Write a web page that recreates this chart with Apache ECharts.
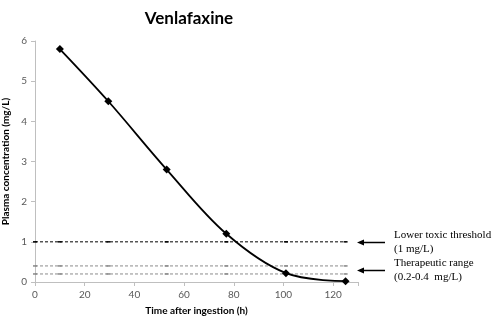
<!DOCTYPE html>
<html lang="en">
<head>
    <meta charset="UTF-8">
    <title>Venlafaxine</title>
    <style>
        html, body { margin: 0; padding: 0; background: #fff; }
        #main { width: 500px; height: 324px; }
    </style>
    <script src="https://cdn.jsdelivr.net/npm/echarts@6/dist/echarts.min.js"></script>
</head>
<body>
    <div id="main"></div>
    <script>
        // measured plasma levels
        let hours = [10, 29.5, 53, 77, 101, 125];
        let conc = [5.8, 4.5, 2.8, 1.2, 0.22, 0.02];
        // reference lines
        let lineX = [0, 10, 29.5, 53, 77, 101, 125];
        let toxic = 1;
        let therapLow = 0.2;
        let therapHigh = 0.4;
        let notes = [
            ['Lower toxic threshold', '(1 mg/L)'],
            ['Therapeutic range', '(0.2-0.4  mg/L)']
        ];

        function flat(v) {
            return lineX.map(function (x) { return [x, v]; });
        }

        let chartDom = document.getElementById('main');
        let myChart = echarts.init(chartDom);
        let font = 'Lato, "Open Sans", sans-serif';

        let option = {
            animation: false,
            title: {
                text: 'Venlafaxine',
                left: 184,
                textAlign: 'center',
                top: 5,
                textStyle: { fontFamily: font, fontWeight: 'bold', fontSize: 17, color: '#000' }
            },
            grid: { left: 35, right: 142, top: 41, bottom: 42, outerBoundsMode: 'none', containLabel: false },
            xAxis: {
                type: 'value',
                min: 0, max: 130, interval: 20,
                name: 'Time after ingestion (h)',
                nameLocation: 'middle',
                nameGap: 24,
                nameTextStyle: { fontFamily: font, fontWeight: 'bold', fontSize: 10, color: '#000' },
                axisLine: { lineStyle: { color: '#bfbfbf' } },
                axisTick: { show: true, length: 4, lineStyle: { color: '#bfbfbf' } },
                axisLabel: {
                    fontFamily: font, fontSize: 10, color: '#595959', margin: 8,
                    formatter: function (v) { return v > 120 ? '' : v; }
                },
                splitLine: { show: false }
            },
            yAxis: {
                type: 'value',
                min: 0, max: 6, interval: 1,
                name: 'Plasma concentration (mg/L)',
                nameLocation: 'middle',
                nameGap: 20,
                nameTextStyle: { fontFamily: font, fontWeight: 'bold', fontSize: 10, color: '#000' },
                axisLine: { show: true, lineStyle: { color: '#bfbfbf' } },
                axisTick: { show: true, length: 4, lineStyle: { color: '#bfbfbf' } },
                axisLabel: { fontFamily: font, fontSize: 10, color: '#595959', margin: 8 },
                splitLine: { show: false }
            },
            series: [
                {
                    type: 'line', data: flat(toxic),
                    symbol: 'rect', symbolSize: [4, 1.5], showSymbol: true,
                    itemStyle: { color: '#000' },
                    lineStyle: { color: '#000', width: 1, type: [3, 2] }
                },
                {
                    type: 'line', data: flat(therapHigh),
                    symbol: 'rect', symbolSize: [4, 1.5],
                    itemStyle: { color: '#888' },
                    lineStyle: { color: '#8c8c8c', width: 1, type: [3, 2] }
                },
                {
                    type: 'line', data: flat(therapLow),
                    symbol: 'rect', symbolSize: [4, 1.5],
                    itemStyle: { color: '#888' },
                    lineStyle: { color: '#8c8c8c', width: 1, type: [3, 2] }
                },
                {
                    type: 'line',
                    data: hours.map(function (h, i) { return [h, conc[i]]; }),
                    smooth: 0.35,
                    symbol: 'diamond', symbolSize: 8,
                    itemStyle: { color: '#000' },
                    lineStyle: { color: '#000', width: 1.8 },
                    z: 5
                }
            ]
        };

        option && myChart.setOption(option);

        // arrows and side notes, placed from the axis values
        let ys = [toxic, (therapLow + therapHigh) / 2];
        let graphics = [];
        ys.forEach(function (v, i) {
            let y = Math.round(myChart.convertToPixel({ gridIndex: 0 }, [0, v])[1]) + 0.5;
            graphics.push({
                type: 'line',
                shape: { x1: 362, y1: y, x2: 385, y2: y },
                style: { stroke: '#000', lineWidth: 1.5 }
            });
            graphics.push({
                type: 'polygon',
                shape: { points: [[357, y], [364, y - 3], [364, y + 3]] },
                style: { fill: '#000' }
            });
            graphics.push({
                type: 'text', left: 394, top: y - 14,
                style: {
                    text: notes[i][0] + '\n' + notes[i][1],
                    font: '11px "Liberation Serif", "Times New Roman", serif',
                    lineHeight: 14, fill: '#000'
                }
            });
        });
        myChart.setOption({ graphic: graphics });
    </script>
</body>
</html>
